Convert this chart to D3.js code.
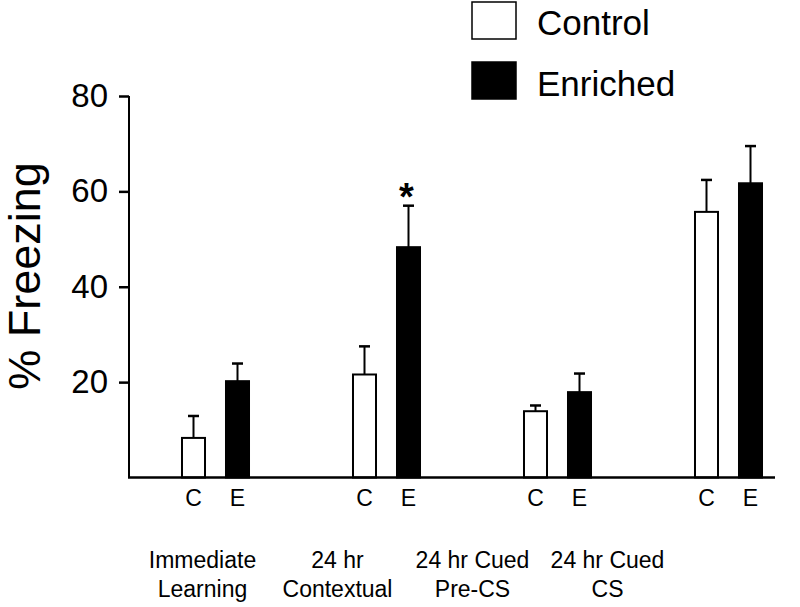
<!DOCTYPE html>
<html>
<head>
<meta charset="utf-8">
<script src="https://cdn.jsdelivr.net/npm/d3@7"></script>
<style>
  html, body { margin: 0; padding: 0; background: #fff; }
  svg { display: block; }
  text { font-family: "Liberation Sans", Arial, Helvetica, sans-serif; fill: #000; }
</style>
</head>
<body>
<svg id="chart" width="800" height="607"></svg>
<script>
// ---- Data ----
const categories = ["Immediate Learning", "24 hr Contextual", "24 hr Cued Pre-CS", "24 hr Cued CS"];
const categoryLines = [["Immediate", "Learning"], ["24 hr", "Contextual"], ["24 hr Cued", "Pre-CS"], ["24 hr Cued", "CS"]];
const groups = ["C", "E"];
const seriesNames = ["Control", "Enriched"];
const controlValues = [8.3, 21.6, 13.9, 55.7];
const controlErrors = [4.6, 5.9, 1.2, 6.7];
const enrichedValues = [20.2, 48.3, 17.9, 61.7];
const enrichedErrors = [3.7, 8.7, 3.9, 7.8];
const significant = [false, true, false, false];
const yTicks = [20, 40, 60, 80];
const yLabel = "% Freezing";

// ---- Build ----
const svg = d3.select("#chart");

const y = d3.scaleLinear().domain([0, 80]).range([477.5, 96]);
const x0 = d3.scaleBand().domain(categories).range([130, 814]).paddingInner(0).paddingOuter(0);
const x1 = d3.scaleBand().domain(groups).range([-44, 44]).paddingInner(0.477).paddingOuter(0.2385);
const xLabel = d3.scaleBand().domain(categories).range([135, 675]);

const rows = [];
categories.forEach((c, i) => {
  rows.push({cat: c, g: "C", v: controlValues[i], e: controlErrors[i], fill: "#fff", sig: false});
  rows.push({cat: c, g: "E", v: enrichedValues[i], e: enrichedErrors[i], fill: "#000", sig: significant[i]});
});
const cx = d => x0(d.cat) + x0.bandwidth() / 2 + x1(d.g) + x1.bandwidth() / 2;

// error bars (upward only)
svg.append("g").selectAll("line.err").data(rows).join("line")
  .attr("x1", cx).attr("x2", cx)
  .attr("y1", d => y(d.v)).attr("y2", d => y(d.v + d.e))
  .attr("stroke", "#000").attr("stroke-width", 2);
svg.append("g").selectAll("line.cap").data(rows).join("line")
  .attr("x1", d => cx(d) - 5.5).attr("x2", d => cx(d) + 5.5)
  .attr("y1", d => y(d.v + d.e)).attr("y2", d => y(d.v + d.e))
  .attr("stroke", "#000").attr("stroke-width", 2.5);

// bars
svg.append("g").selectAll("rect").data(rows).join("rect")
  .attr("x", d => cx(d) - x1.bandwidth() / 2)
  .attr("width", x1.bandwidth())
  .attr("y", d => y(d.v))
  .attr("height", d => y(0) - y(d.v))
  .attr("fill", d => d.fill)
  .attr("stroke", "#000").attr("stroke-width", 2);

// significance
svg.append("g").selectAll("text").data(rows.filter(d => d.sig)).join("text")
  .attr("x", d => cx(d) - 2).attr("y", d => y(d.v + d.e) + 4)
  .attr("text-anchor", "middle")
  .attr("font-size", 38).attr("font-weight", "bold")
  .text("*");

// y axis
const yAxis = d3.axisLeft(y).tickValues(yTicks).tickSize(10).tickPadding(11).tickSizeOuter(0);
const ga = svg.append("g").attr("transform", "translate(129,0)").call(yAxis);
ga.select(".domain").remove();
ga.selectAll(".tick line").attr("stroke", "#000").attr("stroke-width", 2.5);
ga.selectAll(".tick text").attr("font-size", 33).attr("font-family", "'Liberation Sans', Arial, sans-serif").attr("fill", "#000");
svg.append("line").attr("x1", 129).attr("x2", 129).attr("y1", y(80)).attr("y2", y(0))
  .attr("stroke", "#000").attr("stroke-width", 2);

// x axis baseline
svg.append("line").attr("x1", 128).attr("x2", 775).attr("y1", y(0)).attr("y2", y(0))
  .attr("stroke", "#000").attr("stroke-width", 2.5);

// C / E labels
svg.append("g").selectAll("text").data(rows).join("text")
  .attr("x", cx).attr("y", 506)
  .attr("text-anchor", "middle").attr("font-size", 23)
  .text(d => d.g);

// category labels
const cl = svg.append("g").selectAll("text").data(categories).join("text")
  .attr("text-anchor", "middle").attr("font-size", 23)
  .attr("transform", d => `translate(${xLabel(d) + xLabel.bandwidth() / 2},568)`);
cl.selectAll("tspan").data((d, i) => categoryLines[i]).join("tspan")
  .attr("x", 0).attr("y", (d, j) => j * 29).text(d => d);

// y label
svg.append("text")
  .attr("transform", "translate(40,276) rotate(-90)")
  .attr("text-anchor", "middle").attr("font-size", 45)
  .text(yLabel);

// legend
const legend = svg.append("g").selectAll("g").data(seriesNames).join("g")
  .attr("transform", (d, i) => `translate(472,${2 + i * 60})`);
legend.append("rect").attr("width", 44).attr("height", 37)
  .attr("fill", (d, i) => i === 0 ? "#fff" : "#000")
  .attr("stroke", "#000").attr("stroke-width", 1.5);
legend.append("text").attr("x", 65).attr("y", (d, i) => i === 0 ? 33 : 34)
  .attr("font-size", 35).text(d => d);
</script>
</body>
</html>
